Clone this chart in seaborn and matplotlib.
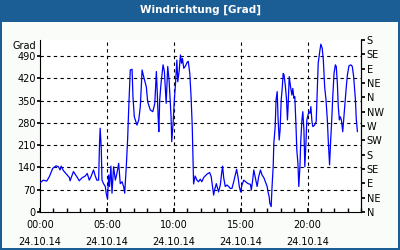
import matplotlib
matplotlib.use("Agg")
import matplotlib.pyplot as plt
import seaborn as sns
import pandas as pd
from matplotlib.ticker import MultipleLocator

# minutes after 00:00 on 24.10.14
minutes = [0, 15, 30, 42, 57, 72, 83, 90, 95, 105, 120, 132, 135, 150, 165, 176, 188, 203, 212, 221,
           230, 240, 248, 255, 263, 267, 270, 275, 278, 285, 293, 297, 303, 308, 312, 318, 323, 330,
           338, 345, 353, 360, 368, 375, 380, 387, 393, 398, 405, 413, 417, 423, 435, 443, 450, 458,
           465, 477, 483, 495, 506, 515, 522, 525, 530, 533, 537, 543, 552, 558, 566, 573, 579, 588,
           591, 597, 603, 608, 614, 618, 624, 630, 635, 639, 645, 653, 660, 665, 672,
           678, 683, 686, 689, 696, 704, 711, 719, 726, 734, 749, 761, 768, 774, 779, 783, 791, 797,
           801, 809, 813, 819, 824, 831, 839, 846, 854, 861, 869, 876, 882, 888, 894, 900, 906, 914,
           923, 933, 944, 948, 954, 959, 966, 974, 981, 989, 996, 1004, 1011, 1019, 1023, 1028, 1031,
           1037, 1041, 1046, 1049, 1055, 1059, 1064, 1068, 1073, 1077, 1082, 1086, 1091, 1095, 1101,
           1106, 1110, 1113, 1118, 1124, 1130, 1134, 1139, 1143, 1148, 1152, 1157, 1161, 1166, 1170,
           1175, 1179, 1184, 1188, 1193, 1197, 1202, 1206, 1211, 1215, 1220, 1224, 1232, 1239, 1244,
           1248, 1256, 1260, 1266, 1271, 1277, 1283, 1289, 1293, 1299, 1304, 1308, 1313, 1319, 1325,
           1329, 1334, 1338, 1343, 1347, 1352, 1358, 1362, 1367, 1374, 1379, 1386, 1394, 1401, 1407,
           1415, 1419, 1424]
degrees = [92, 100, 97, 111, 137, 145, 142, 132, 144, 130, 118, 108, 98, 127, 111, 98, 107, 113, 121, 100,
           113, 132, 113, 100, 100, 216, 263, 195, 100, 89, 80, 59, 40, 116, 80, 144, 59, 142,
           100, 121, 153, 89, 95, 80, 59, 142, 226, 326, 446, 448, 362, 299, 273, 289, 331, 446,
           425, 393, 346, 320, 315, 341, 441, 393, 299, 252, 352, 404, 462, 441, 341, 457, 414, 299,
           221, 278, 356, 404, 477, 409, 441, 493, 467, 482, 451, 459, 470, 473, 435,
           357, 268, 184, 88, 113, 100, 95, 103, 95, 108, 119, 124, 111, 80, 53, 69, 89, 74,
           63, 85, 111, 144, 108, 80, 85, 80, 74, 74, 95, 116, 134, 111, 80, 63, 85, 100,
           95, 89, 87, 69, 100, 132, 108, 80, 111, 132, 116, 108, 95, 80, 63, 48, 27,
           17, 80, 142, 216, 268, 352, 378, 294, 226, 257, 352, 383, 435, 430, 393,
           352, 289, 331, 425, 393, 367, 388, 357, 362, 278, 195, 153, 80, 142, 226,
           289, 315, 257, 142, 216, 289, 304, 315, 310, 331, 284, 268, 273, 284, 383,
           467, 509, 527, 514, 477, 393, 352, 289, 226, 148, 226, 278, 357, 435, 462,
           457, 404, 331, 289, 299, 289, 252, 289, 331, 393, 430, 459, 462, 457, 425,
           352, 289, 252]

left_ticks = [0, 70, 140, 210, 280, 350, 420, 490]
right_ticks = [0, 45, 90, 135, 180, 225, 270, 315, 360, 405, 450, 495, 540]
right_labels = ["N", "NE", "E", "SE", "S", "SW", "W", "NW", "N", "NE", "E", "SE", "S"]
x_ticks = [0, 5, 10, 15, 20]
x_labels = ["00:00\n24.10.14", "05:00\n24.10.14", "10:00\n24.10.14", "15:00\n24.10.14", "20:00\n24.10.14"]
title = "Windrichtung [Grad]"
unit = "Grad"

sns.set_theme(style="white")
plt.rcParams['font.family'] = ['DejaVu Sans']

df = pd.DataFrame({"hour": [m / 60 for m in minutes], "deg": degrees})

BLUE = "#1b5e95"
fig = plt.figure(figsize=(4, 2.5), dpi=100, facecolor=BLUE)
bg = fig.add_axes([2 / 400, 2 / 250, 396 / 400, 226 / 250], zorder=-5)
bg.set_facecolor("#f9fcf9")
bg.set_xticks([])
bg.set_yticks([])
for s in bg.spines.values():
    s.set_visible(False)

fig.text(0.5, 1 - 10 / 250, title, ha="center", va="center", color="white",
         fontsize=7.5, fontweight="bold")

ax = fig.add_axes([40 / 400, 1 - 212 / 250, 321 / 400, 172 / 250], zorder=1)
ax.set_facecolor("white")
sns.lineplot(data=df, x="hour", y="deg", ax=ax, color="#0000ff", linewidth=0.9, zorder=3)
ax.set_xlim(0, 24)
ax.set_ylim(0, 540)
ax.set_xlabel("")
ax.set_ylabel("")

for s in ax.spines.values():
    s.set_color("black")
    s.set_linewidth(0.8)
ax.spines["top"].set_visible(False)

ax.set_yticks(left_ticks)
ax.set_yticklabels([str(t) for t in left_ticks], fontsize=7, color="black")
ax.tick_params(axis="y", which="major", length=2, direction="out", pad=1, color="black", left=True)

ax.set_xticks(x_ticks)
ax.set_xticklabels(x_labels, fontsize=7, color="black", linespacing=1.85)
ax.xaxis.set_minor_locator(MultipleLocator(1))
ax.tick_params(axis="x", which="both", length=3, direction="in", pad=6, color="black", bottom=True)

for y in left_ticks[1:]:
    ax.axhline(y, color="black", linestyle=(0, (3, 3)), linewidth=0.8, zorder=1)
for x in x_ticks[1:]:
    ax.axvline(x, color="black", linestyle=(0, (3, 3)), linewidth=0.8, zorder=1)

ax2 = ax.twinx()
ax2.set_ylim(0, 540)
ax2.set_yticks(right_ticks)
ax2.set_yticklabels(right_labels, fontsize=7, color="black")
ax2.tick_params(axis="y", length=3, direction="out", pad=1, color="black", right=True)
for s in ax2.spines.values():
    s.set_visible(False)
ax2.spines["right"].set_visible(True)
ax2.spines["right"].set_color("black")
ax2.spines["right"].set_linewidth(0.8)
ax2.grid(False)

fig.text(36 / 400, 1 - 46 / 250, unit, ha="right", va="center", fontsize=7, color="black")

fig.savefig("out.png", dpi=100, facecolor=BLUE)
